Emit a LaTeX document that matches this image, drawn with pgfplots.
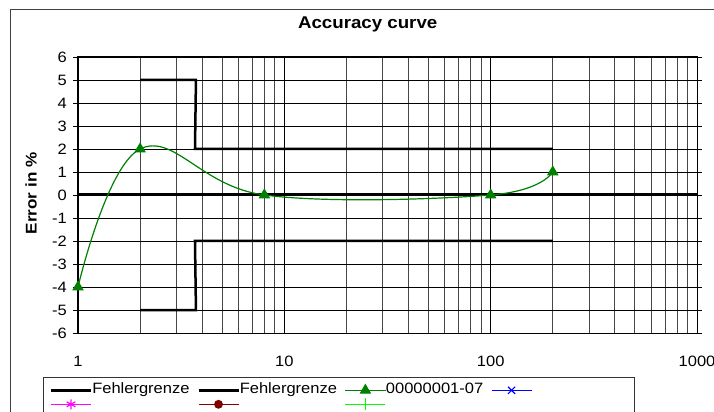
\documentclass[border=0pt]{standalone}
\usepackage{pgfplots}
\pgfplotsset{compat=1.18}
\usepackage{fontspec}
\setmainfont{Liberation Sans}[FakeStretch=1.1]
\definecolor{xgreen}{RGB}{0,128,0}
\definecolor{xdarkred}{RGB}{128,0,0}
\definecolor{xlgreen}{RGB}{0,255,0}
\definecolor{xblue}{RGB}{0,0,255}
\definecolor{xmagenta}{RGB}{255,0,255}
\begin{document}
\begin{tikzpicture}
\useasboundingbox (-78bp,-79bp) rectangle (636bp,333bp);
\clip (-78bp,-79bp) rectangle (636bp,333bp);
\fill[white] (-78bp,-79bp) rectangle (636bp,333bp);
\draw[line width=1bp, black!75] (-67bp,-100bp) -- (-67bp,323bp) -- (700bp,323bp);
\begin{axis}[
 at={(0,0)}, anchor=south west,
 scale only axis, width=619bp, height=276bp,
 xmode=log, xmin=1, xmax=1000, ymin=-6, ymax=6,
 ytick={-6,-5,...,6},
 xtick={1,10,100,1000},
 xticklabels={1,10,100,1000},
 minor xtick={2,3,4,5,6,7,8,9,20,30,40,50,60,70,80,90,200,300,400,500,600,700,800,900},
 grid=both,
 major grid style={black, line width=0.8bp},
 minor grid style={black!72, line width=0.9bp},
 axis line style={black, line width=1bp},
 tick align=outside,
 major tick length=5bp,
 minor tick length=0pt,
 xtick style={draw=none},
 ytick style={black, line width=0.8bp},
 clip=false,
 /pgf/number format/assume math mode=true,
 ticklabel style={font=\fontsize{15bp}{18bp}\selectfont},
 xticklabel style={inner sep=0pt, anchor=north, yshift=-18bp},
 yticklabel style={inner sep=0pt, anchor=east, xshift=-6bp},
 title={Accuracy curve},
 title style={font=\bfseries\fontsize{17bp}{20bp}\selectfont, at={(axis description cs:0.468,1.0833)}, anchor=base, inner sep=0pt},
 ylabel={Error in \%},
 ylabel style={font=\bfseries\fontsize{15.5bp}{18bp}\selectfont, at={(axis description cs:-0.0759,0.506)}, anchor=center, inner sep=0pt},
 legend columns=4,
 legend cell align=left,
 legend style={at={(axis description cs:-0.0561,-0.1605)}, anchor=north west, draw=black!80, line width=1bp,
   font=\fontsize{15bp}{18bp}\selectfont, inner xsep=6bp, inner ysep=5.5bp,
   nodes={inner xsep=0bp, inner ysep=0bp, text height=10bp, text depth=4bp},
   /tikz/every even column/.append style={column sep=9bp}},
 legend image code/.code={\draw[mark repeat=2,mark phase=2,#1] plot coordinates {(0bp,0bp) (20bp,0bp) (40bp,0bp)};},
]
\addplot[line width=2.5bp, black] coordinates {(2,5) (3.73,5) (3.69,2) (200,2)};
\addlegendentry{\makebox[96bp][l]{Fehlergrenze}}
\addplot[line width=2.5bp, black] coordinates {(2,-5) (3.73,-5) (3.69,-2) (200,-2)};
\addlegendentry{\makebox[96bp][l]{Fehlergrenze}}
\addplot[line width=3bp, black, forget plot] coordinates {(1,0) (1000,0)};
\addplot[black, line width=1bp, forget plot] coordinates {(10,0) (10,-0.22)};
\addplot[black, line width=1bp, forget plot] coordinates {(100,0) (100,-0.22)};
\addplot[black, line width=1bp, forget plot] coordinates {(1000,0) (1000,-0.22)};
\addplot[black, line width=1bp, forget plot] coordinates {(1,0) (1,-0.22)};
\addplot[line width=1.2bp, color=xgreen, draw=xgreen, smooth, tension=0.65, mark=triangle*, mark size=5.5bp, mark options={solid, fill=xgreen, draw=xgreen}] coordinates {(1,-4) (2,2) (8,0) (100,0) (200,1)};
\addlegendentry{\makebox[96bp][l]{00000001-07}}
\addlegendimage{color=xblue, draw=xblue, line width=1.2bp, mark=x, mark size=5bp, mark options={draw=xblue}}
\addlegendentry{\makebox[96bp][l]{}}
\addlegendimage{color=xmagenta, draw=xmagenta, line width=1.2bp, mark=asterisk, mark size=5bp, mark options={draw=xmagenta}}
\addlegendentry{\makebox[96bp][l]{}}
\addlegendimage{color=xdarkred, draw=xdarkred, line width=1.2bp, mark=*, mark size=3.8bp, mark options={draw=xdarkred, fill=xdarkred}}
\addlegendentry{\makebox[96bp][l]{}}
\addlegendimage{color=xlgreen, draw=xlgreen, line width=1.2bp, mark=+, mark size=6bp, mark options={draw=xlgreen}}
\addlegendentry{\makebox[96bp][l]{}}
\end{axis}
\end{tikzpicture}
\end{document}
